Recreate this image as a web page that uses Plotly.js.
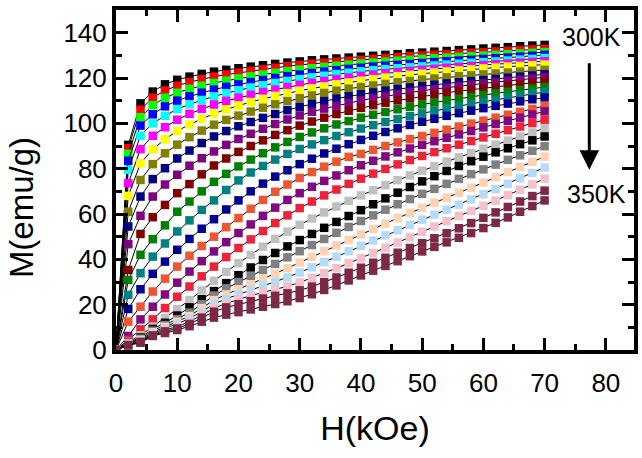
<!DOCTYPE html>
<html>
<head>
<meta charset="utf-8">
<script src="https://cdn.plot.ly/plotly-3.0.1.min.js"></script>
<style>html,body{margin:0;padding:0;background:#fff;}#chart{width:642px;height:458px;}</style>
</head>
<body>
<div id="chart"></div>
<script>
// Field values (kOe)
var H = [0,2,4,6,8,10,12,14,16,18,20,22,24,26,28,30,32,34,36,38,40,42,44,46,48,50,52,54,56,58,60,62,64,66,68,70];

// Magnetization (emu/g) isotherms, top (300K) to bottom (350K)
var m01 = [0,90.5,108.8,114,117.2,119.2,120.6,121.8,122.8,123.6,124.3,125,125.6,126.2,126.8,127.3,127.8,128.2,128.6,129,129.4,129.8,130.2,130.5,130.9,131.2,131.6,131.9,132.3,132.6,133,133.3,133.6,134,134.3,134.6];
var m02 = [0,89,106,111.3,114.5,116.6,118.2,119.5,120.6,121.5,122.3,123.1,123.8,124.5,125.2,125.8,126.3,126.8,127.2,127.6,128,128.4,128.8,129.2,129.6,129.9,130.2,130.5,130.8,131.1,131.4,131.7,132,132.3,132.6,132.8];
var m03 = [0,86.6,102.7,108,111.3,113.5,115.2,116.6,117.8,118.8,119.8,120.7,121.5,122.3,123,123.7,124.3,124.9,125.4,125.9,126.4,126.8,127.2,127.6,128,128.4,128.7,129,129.3,129.6,129.9,130.2,130.5,130.8,131.1,131.4];
var m04 = [0,83.5,99,104,107.5,110,111.9,113.5,114.9,116.1,117.2,118.2,119.1,120,120.8,121.5,122.2,122.8,123.4,124,124.5,125,125.4,125.8,126.2,126.6,127,127.4,127.7,128,128.4,128.7,129,129.4,129.8,130.2];
var m05 = [0,79.5,94.5,100,103.3,106.3,108.4,110.3,111.9,113.3,114.6,115.8,116.8,117.8,118.7,119.5,120.3,121,121.7,122.3,122.9,123.4,123.9,124.3,124.7,125.1,125.5,125.9,126.3,126.7,127,127.3,127.7,128.1,128.4,128.8];
var m06 = [0,73.6,88.6,94.5,98.3,101.6,104.2,106.4,108.3,109.9,111.3,112.6,113.8,114.9,116,117,117.9,118.7,119.5,120.2,120.9,121.5,122.1,122.6,123.1,123.6,124,124.5,124.9,125.3,125.7,126.1,126.4,126.8,127.1,127.4];
var m07 = [0,68,82.3,88.5,93,96.6,99.5,102,104.3,106.2,107.9,109.4,110.8,112.1,113.3,114.4,115.4,116.3,117.2,118,118.8,119.5,120.2,120.8,121.4,121.9,122.4,122.9,123.4,123.8,124.2,124.6,125,125.3,125.6,125.9];
var m08 = [0,61,75,82,86.8,90.6,93.9,96.8,99.4,101.5,103.4,105.2,106.9,108.4,109.8,111.1,112.3,113.4,114.4,115.3,116,116.7,117.4,118.1,118.7,119.3,119.8,120.3,120.8,121.2,121.6,122,122.4,122.8,123.2,123.6];
var m09 = [0,54.5,67.7,75.4,80.2,84.5,88,91.3,94.2,96.6,98.7,100.6,102.4,104.1,105.8,107.3,108.6,109.8,110.9,111.9,112.8,113.6,114.4,115.1,115.8,116.4,117,117.6,118.1,118.6,119.1,119.6,120.1,120.6,121.1,121.6];
var m10 = [0,46.7,59.2,67.7,73,77.3,81.3,84.6,87.6,90.5,93.1,95.4,97.6,99.7,101.7,103.5,105.1,106.5,107.8,109,110.1,111.1,112,112.9,113.7,114.4,115.1,115.8,116.4,117,117.6,118.2,118.8,119.3,119.8,120.3];
var m11 = [0,35.3,51.2,58.6,64,69.2,73.2,77.5,81.4,84.5,87.4,90,92.5,94.9,97,99,100.8,102.5,104.1,105.5,106.8,108,109.1,110.1,111,111.9,112.7,113.5,114.2,114.9,115.5,116.1,116.7,117.3,117.9,118.4];
var m12 = [0,30.9,42,48.9,55,61,65.5,70,74.2,77.7,81,84,86.8,89.4,91.8,94,96,97.8,99.5,101,102.5,103.8,105,106.2,107.3,108.3,109.2,110.1,110.9,111.7,112.5,113.2,113.9,114.6,115.3,116];
var m13 = [0,24.3,33.9,41.2,47,52.3,57.2,61.8,66,70.6,74.8,78.3,81.2,84,86.5,88.7,90.7,92.6,94.4,96.1,97.7,99.2,100.6,101.9,103.2,104.4,105.5,106.6,107.6,108.6,109.5,110.4,111.3,112.2,113,113.8];
var m14 = [0,18.1,26.8,33.6,39,44.2,49,53.5,57.7,62,66,70,73.4,76.5,79.3,82,84.4,86.7,88.8,90.8,92.7,94.5,96.2,97.8,99.3,100.7,102,103.3,104.5,105.6,106.7,107.7,108.7,109.7,110.6,111.4];
var m15 = [0,12.5,19.1,25.8,31.5,36.8,41.6,45.9,50,54.2,58.2,62.3,66.2,69.8,73,75.9,78.5,80.9,83.1,85.2,86.5,88.3,90,91.6,93,94.4,95.8,97.2,98.6,99.9,101.2,102.5,103.8,105.1,106.4,107.7];
var m16 = [0,6.2,13.5,19.1,24.5,29.7,34.6,39.2,43.5,47.6,51.6,55.4,59.2,62.8,66.2,69.2,72,74.6,77,79.3,81.5,83.5,85.4,87.2,88.9,90.5,92.1,93.6,95.1,96.6,98.2,99.7,101.1,102.5,103.9,105.3];
var m17 = [0,4.5,9.1,13.5,18.5,23.5,28,32.5,36.8,41,45,48.8,52.5,56,59.4,62.6,65.5,68.2,70.8,73.3,75.6,77.8,79.9,81.9,83.8,85.6,87.3,89,90.6,92.2,93.8,95.4,97,98.6,100.1,101.6];
var m18 = [0,3.5,6.5,10.3,14,18,22,26.3,30.5,34.5,38.3,42,45.6,49,52.2,55.2,58,60.7,63.3,65.8,68.2,70.5,72.7,74.9,77,79.1,81.1,83.1,85,86.9,88.8,90.6,92.4,94.2,96,97.8];
var m19 = [0,3.2,5.5,9.3,12,15.2,18.8,22.4,26,29.5,33,36.4,39.7,42.8,45.7,48.5,51.2,53.9,56.5,59.1,61.7,64.3,66.9,69.4,71.9,74.4,76.7,79,81.2,83.3,85.3,87.2,89,90.8,92.5,94.2];
var m20 = [0,3,5,8.5,11,13.6,16.5,20.2,24,27.2,30,32.6,35.3,38,40.9,43.6,46.3,49,51.7,54.3,56.9,59.4,61.9,64.3,66.6,68.9,71.1,73.3,75.5,77.6,79.7,81.8,83.9,85.9,87.9,89.9];
var m21 = [0,2.8,4.5,7.8,10.2,12.5,15,18.5,22,24.5,26.8,28.9,31.3,33.7,36.1,38.6,41.1,43.6,46.1,48.6,51,53.4,55.8,58.2,60.5,62.8,65,67.2,69.4,71.6,73.9,76.2,78.5,80.8,83,85.3];
var m22 = [0,2.6,4.2,7.2,9.5,11.5,13.8,17,20.3,22.6,24.6,26.5,28.3,30.1,32,34.2,36.5,38.8,41.2,43.6,46,48.3,50.6,52.9,55.2,57.5,59.7,61.9,64.1,66.4,68.7,71,73.3,75.7,78.1,80.5];
var m23 = [0,2.4,3.9,6.7,8.8,10.3,12.5,15.6,18.4,20.6,22.4,24,25.4,26.7,28.1,29.8,31.8,33.9,36.1,38.3,40.5,42.8,45.1,47.4,49.8,52.2,54.5,56.8,59.1,61.3,63.6,65.9,68.3,70.7,73.1,75.6];
var m24 = [0,2.2,3.6,6.4,8.2,9.5,11.5,14.3,16.9,18.8,20.2,21.5,22.7,23.9,25,26.3,28,29.9,32,34.1,36.3,38.5,40.7,42.9,45,47.1,49.3,51.5,53.7,56,58.3,60.7,63.1,65.5,67.9,70.3];
var m25 = [0,2,3.2,6.2,7.5,8.8,10.5,12.5,14.3,15.6,16.7,17.9,19.1,20.3,21.5,22.9,24.6,26.5,28.5,30.7,32.9,35,37.1,39.2,41.4,43.5,45.5,47.5,49.5,51.6,53.8,56.1,58.5,61,63.5,66];

var series = [m01,m02,m03,m04,m05,m06,m07,m08,m09,m10,m11,m12,m13,m14,m15,m16,m17,m18,m19,m20,m21,m22,m23,m24,m25];
var colors = ['#000000','#FF0000','#00FF00','#0000FF','#00FFFF','#FF00FF','#FFFF00','#808000','#000080','#800080','#800000','#008000','#008080','#000090','#EE5533','#800880','#EE2238','#C0C0C0','#000000','#808080','#FFD2B4','#B4DCF8','#F4C0CC','#7D2845','#7D2845'];

var traces = series.map(function(m, i){
  return {x: H, y: m, type: 'scatter', mode: 'lines+markers',
    line: {color: '#000', width: 1},
    marker: {symbol: 'square', size: 8.5, color: colors[i], line: {width: 0}},
    showlegend: false, hoverinfo: 'x+y'};
});

var ff = 'Liberation Sans, Arial, sans-serif';
var fontTick = {family: ff, size: 26, color: '#000'};
var fontTitle = {family: ff, size: 34, color: '#000'};

var layout = {
  width: 642, height: 458,
  margin: {l: 116, r: 8, t: 10, b: 108},
  paper_bgcolor: '#fff', plot_bgcolor: '#fff',
  showlegend: false,
  xaxis: {
    range: [0, 84.6], dtick: 10, tick0: 0,
    showline: true, linewidth: 4, linecolor: '#000', mirror: 'ticks',
    ticks: 'inside', ticklen: 12, tickwidth: 3, tickcolor: '#000',
    minor: {dtick: 5, ticks: 'inside', ticklen: 6, tickwidth: 3, tickcolor: '#000'},
    showgrid: false, zeroline: false,
    tickfont: fontTick, ticklabelstandoff: 7,
    title: {text: 'H(kOe)', font: fontTitle, standoff: 20}
  },
  yaxis: {
    range: [0, 150], dtick: 20, tick0: 0,
    showline: true, linewidth: 4, linecolor: '#000', mirror: 'ticks',
    ticks: 'inside', ticklen: 12, tickwidth: 3, tickcolor: '#000',
    minor: {dtick: 10, ticks: 'inside', ticklen: 6, tickwidth: 3, tickcolor: '#000'},
    showgrid: false, zeroline: false,
    tickfont: fontTick, ticklabelstandoff: 0
  },
  annotations: [
    {x: -0.181, y: 0.418, xref: 'paper', yref: 'paper', text: 'M(emu/g)', showarrow: false,
     textangle: -90, xanchor: 'center', yanchor: 'middle', font: {family: ff, size: 33, color: '#000'}},
    {x: 77.6, y: 138.3, xref: 'x', yref: 'y', text: '300K', showarrow: false,
     font: {family: ff, size: 25, color: '#000'}},
    {x: 78.4, y: 68.9, xref: 'x', yref: 'y', text: '350K', showarrow: false,
     font: {family: ff, size: 25, color: '#000'}},
    {x: 77.3, y: 79.5, xref: 'x', yref: 'y', text: '', showarrow: true,
     ax: 0, ay: -108, arrowhead: 2, arrowsize: 1.3, arrowwidth: 3, arrowcolor: '#000'}
  ]
};

Plotly.newPlot('chart', traces, layout, {staticPlot: true, displayModeBar: false});
</script>
</body>
</html>
